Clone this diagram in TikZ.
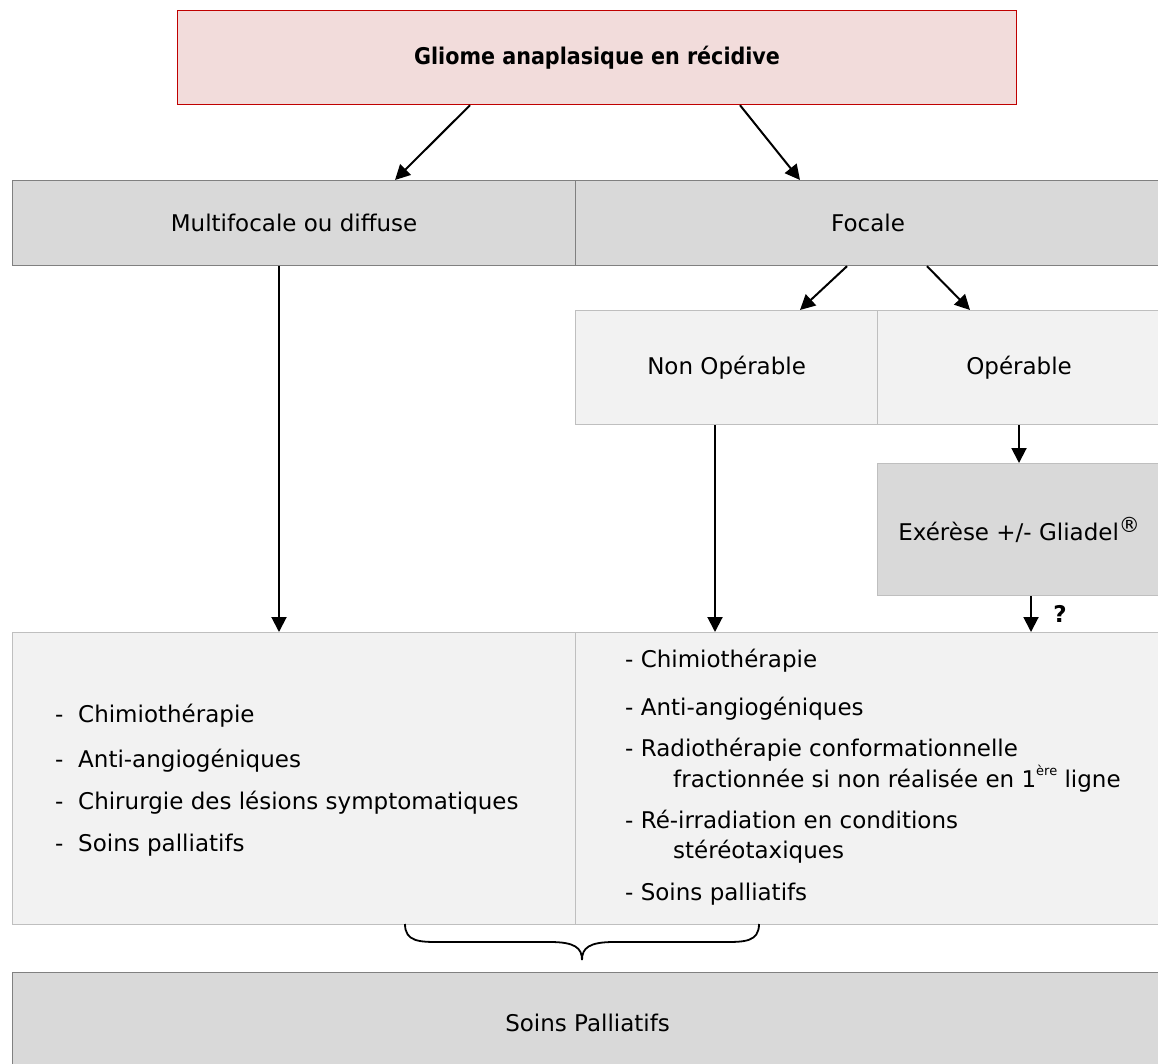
\documentclass[tikz,border=0pt]{standalone}
\usepackage{fontspec}
\setmainfont{DejaVu Sans}
\newfontfamily\titrefont{DejaVu Sans Condensed}
\usetikzlibrary{arrows.meta}

\definecolor{rosefond}{HTML}{F2DCDB}
\definecolor{rougebord}{HTML}{C00000}
\definecolor{grisfonce}{HTML}{D9D9D9}
\definecolor{grisclair}{HTML}{F2F2F2}
\definecolor{traitfonce}{HTML}{808080}
\definecolor{traitclair}{HTML}{BFBFBF}

\def\taille{\fontsize{23}{28}\selectfont}

\tikzset{
  boite/.style={rectangle, anchor=north west, inner sep=0pt, line width=1.2pt},
  titre/.style={boite, fill=rosefond, draw=rougebord, font=\titrefont\taille\bfseries},
  gris/.style={boite, fill=grisfonce, draw=traitfonce},
  grisb/.style={boite, fill=grisfonce, draw=traitclair},
  pale/.style={boite, fill=grisclair, draw=traitclair},
  fleche/.style={line width=2pt, -{Triangle[length=15pt,width=15pt]}},
  ligne/.style={anchor=base west, inner sep=0pt},
  accolade/.style={line width=1.8pt},
}

\begin{document}
\begin{tikzpicture}[x=1pt, y=-1pt, font=\taille]
  \useasboundingbox (0,0) rectangle (1158,1064);

  % les boites
  \node[titre, minimum width=839pt, minimum height=94pt] (gliome) at (177,10) {Gliome anaplasique en récidive};
  \node[gris, minimum width=563pt, minimum height=85pt] (multi) at (12,180) {Multifocale ou diffuse};
  \node[gris, minimum width=585pt, minimum height=85pt] (focale) at (575,180) {Focale};
  \node[pale, minimum width=302pt, minimum height=114pt] (nonop) at (575,310) {Non Opérable};
  \node[pale, minimum width=283pt, minimum height=114pt] (operable) at (877,310) {Opérable};
  \node[grisb, minimum width=283pt, minimum height=132pt] (exerese) at (877,463)
    {Exérèse +/- Gliadel\raisebox{0.35em}{\fontsize{21}{21}\selectfont ®}};
  \node[pale, minimum width=563pt, minimum height=292pt] (listeG) at (12,632) {};
  \node[pale, minimum width=585pt, minimum height=292pt] (listeD) at (575,632) {};
  \node[gris, minimum width=1150pt, minimum height=100pt] (soins) at (12,972) {Soins Palliatifs};

  % liste de gauche
  \foreach \y/\t [count=\i] in {722/Chimiothérapie, 767/Anti-angiogéniques,
      809/Chirurgie des lésions symptomatiques, 851/Soins palliatifs}{
    \node[ligne] (tiretG\i) at (55,\y) {-};
    \node[ligne] (itemG\i) at (78,\y) {\t};
  }

  % liste de droite
  \node[ligne] (itemD1) at (625,667) {- Chimiothérapie};
  \node[ligne] (itemD2) at (625,715) {- Anti-angiogéniques};
  \node[ligne] (itemD3) at (625,756) {- Radiothérapie conformationnelle};
  \node[ligne] (itemD3b) at (673,787) {fractionnée si non réalisée en 1\raisebox{0.5em}{\fontsize{13}{13}\selectfont ère} ligne};
  \node[ligne] (itemD4) at (625,828) {- Ré-irradiation en conditions};
  \node[ligne] (itemD4b) at (673,858) {stéréotaxiques};
  \node[ligne] (itemD5) at (625,900) {- Soins palliatifs};

  % les fleches
  \draw[fleche] (gliome.south -| 470,0) -- (multi.north -| 395,0);
  \draw[fleche] (gliome.south -| 740,0) -- (focale.north -| 800,0);
  \draw[fleche] (focale.south -| 847,0) -- (nonop.north -| 800,0);
  \draw[fleche] (focale.south -| 927,0) -- (operable.north -| 970,0);
  \draw[fleche] (multi.south -| 279,0) -- (listeG.north -| 279,0);
  \draw[fleche] (nonop.south -| 715,0) -- (listeD.north -| 715,0);
  \draw[fleche] (operable.south -| 1019,0) -- (exerese.north -| 1019,0);
  \draw[fleche] (exerese.south -| 1031,0) -- (listeD.north -| 1031,0)
    node[midway, right=18pt, font=\taille\bfseries] (question) {?};

  % accolade
  \draw[accolade] (405,924) .. controls (405,942) and (420,942) .. (440,942) -- (550,942)
    .. controls (575,942) and (582,948) .. (582,960)
    .. controls (582,948) and (589,942) .. (614,942) -- (724,942)
    .. controls (744,942) and (759,942) .. (759,924);
\end{tikzpicture}
\end{document}
